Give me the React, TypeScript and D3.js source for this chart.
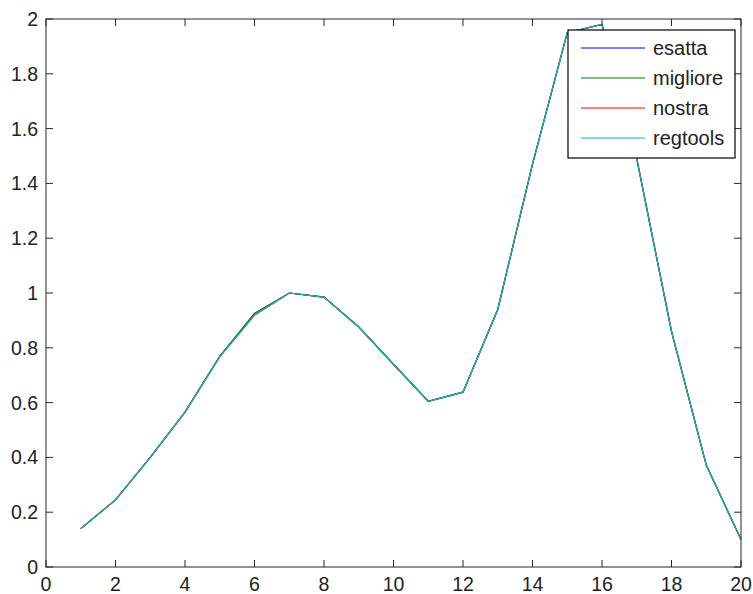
import * as d3 from "d3";
import React, { useEffect, useRef } from "react";

// x positions of the samples
const xs = [1, 2, 3, 4, 5, 6, 7, 8, 9, 10, 11, 12, 13, 14, 15, 16, 17, 18, 19, 20];

const esatta = [0.14, 0.245, 0.4, 0.565, 0.768, 0.92, 1.0, 0.985, 0.876, 0.74, 0.605, 0.638, 0.94, 1.47, 1.95, 1.98, 1.49, 0.86, 0.372, 0.1];
const migliore = [0.14, 0.245, 0.4, 0.565, 0.77, 0.926, 1.0, 0.985, 0.876, 0.74, 0.605, 0.638, 0.94, 1.47, 1.95, 1.98, 1.49, 0.86, 0.372, 0.1];
const nostra = [0.14, 0.245, 0.4, 0.565, 0.768, 0.92, 1.0, 0.985, 0.876, 0.74, 0.605, 0.638, 0.94, 1.47, 1.95, 1.98, 1.49, 0.86, 0.372, 0.1];
const regtools = [0.14, 0.245, 0.4, 0.565, 0.767, 0.919, 1.0, 0.985, 0.876, 0.74, 0.605, 0.638, 0.94, 1.47, 1.95, 1.98, 1.49, 0.86, 0.372, 0.1];

const seriesNames = ["esatta", "migliore", "nostra", "regtools"];
const seriesColors = ["#0000ff", "#008000", "#ff0000", "#00bfbf"];

const xTicks = [0, 2, 4, 6, 8, 10, 12, 14, 16, 18, 20];
const yTicks = [0, 0.2, 0.4, 0.6, 0.8, 1, 1.2, 1.4, 1.6, 1.8, 2];

const App = () => {
  const svgRef = useRef(null);

  useEffect(() => {
    const width = 753,
      height = 594;
    const margin = { top: 19, right: 12, bottom: 27, left: 46 };
    const font = "'Liberation Sans', Arial, sans-serif";

    const svg = d3
      .select(svgRef.current)
      .html("")
      .attr("width", width)
      .attr("height", height)
      .style("background", "#ffffff");

    const x = d3.scaleLinear().domain([0, 20]).range([margin.left, width - margin.right]);
    const y = d3.scaleLinear().domain([0, 2]).range([height - margin.bottom, margin.top]);

    const allSeries = [esatta, migliore, nostra, regtools];

    const line = d3
      .line()
      .x((d) => x(d[0]))
      .y((d) => y(d[1]));

    allSeries.forEach((vals, i) => {
      svg
        .append("path")
        .datum(xs.map((v, j) => [v, vals[j]]))
        .attr("fill", "none")
        .attr("stroke", seriesColors[i])
        .attr("stroke-width", 1.2)
        .attr("d", line);
    });

    const x0 = x(0),
      x1 = x(20),
      y0 = y(0),
      y1 = y(2);
    const tickLen = 7;
    const axisColor = "#262626";

    // box
    svg
      .append("rect")
      .attr("x", x0)
      .attr("y", y1)
      .attr("width", x1 - x0)
      .attr("height", y0 - y1)
      .attr("fill", "none")
      .attr("stroke", axisColor)
      .attr("stroke-width", 1);

    // x ticks, bottom and top
    xTicks.forEach((t) => {
      svg
        .append("line")
        .attr("x1", x(t))
        .attr("x2", x(t))
        .attr("y1", y0)
        .attr("y2", y0 - tickLen)
        .attr("stroke", axisColor);
      svg
        .append("line")
        .attr("x1", x(t))
        .attr("x2", x(t))
        .attr("y1", y1)
        .attr("y2", y1 + tickLen)
        .attr("stroke", axisColor);
      svg
        .append("text")
        .attr("x", x(t))
        .attr("y", y0 + 24)
        .attr("text-anchor", "middle")
        .style("font-family", font)
        .style("font-size", "19.5px")
        .attr("fill", "#222")
        .text(t);
    });

    // y ticks, left and right
    yTicks.forEach((t) => {
      svg
        .append("line")
        .attr("x1", x0)
        .attr("x2", x0 + tickLen)
        .attr("y1", y(t))
        .attr("y2", y(t))
        .attr("stroke", axisColor);
      svg
        .append("line")
        .attr("x1", x1)
        .attr("x2", x1 - tickLen)
        .attr("y1", y(t))
        .attr("y2", y(t))
        .attr("stroke", axisColor);
      svg
        .append("text")
        .attr("x", x0 - 8)
        .attr("y", y(t))
        .attr("dy", "0.36em")
        .attr("text-anchor", "end")
        .style("font-family", font)
        .style("font-size", "19.5px")
        .attr("fill", "#222")
        .text(d3.format("~g")(t));
    });

    // legend
    const legend = svg.append("g").attr("transform", "translate(568, 30)");
    legend
      .append("rect")
      .attr("width", 167)
      .attr("height", 128)
      .attr("fill", "#ffffff")
      .attr("stroke", "#000")
      .attr("stroke-width", 1.2);

    seriesNames.forEach((name, i) => {
      const row = legend.append("g").attr("transform", `translate(0, ${18 + i * 30})`);
      row
        .append("line")
        .attr("x1", 13)
        .attr("x2", 77)
        .attr("stroke", seriesColors[i])
        .attr("stroke-width", 1.2);
      row
        .append("text")
        .attr("x", 85)
        .attr("dy", "0.36em")
        .style("font-family", font)
        .style("font-size", "20px")
        .attr("fill", "#222")
        .text(name);
    });
  }, []);

  return <svg ref={svgRef} style={{ position: "absolute", left: 0, top: 0 }}></svg>;
};

export default App;
